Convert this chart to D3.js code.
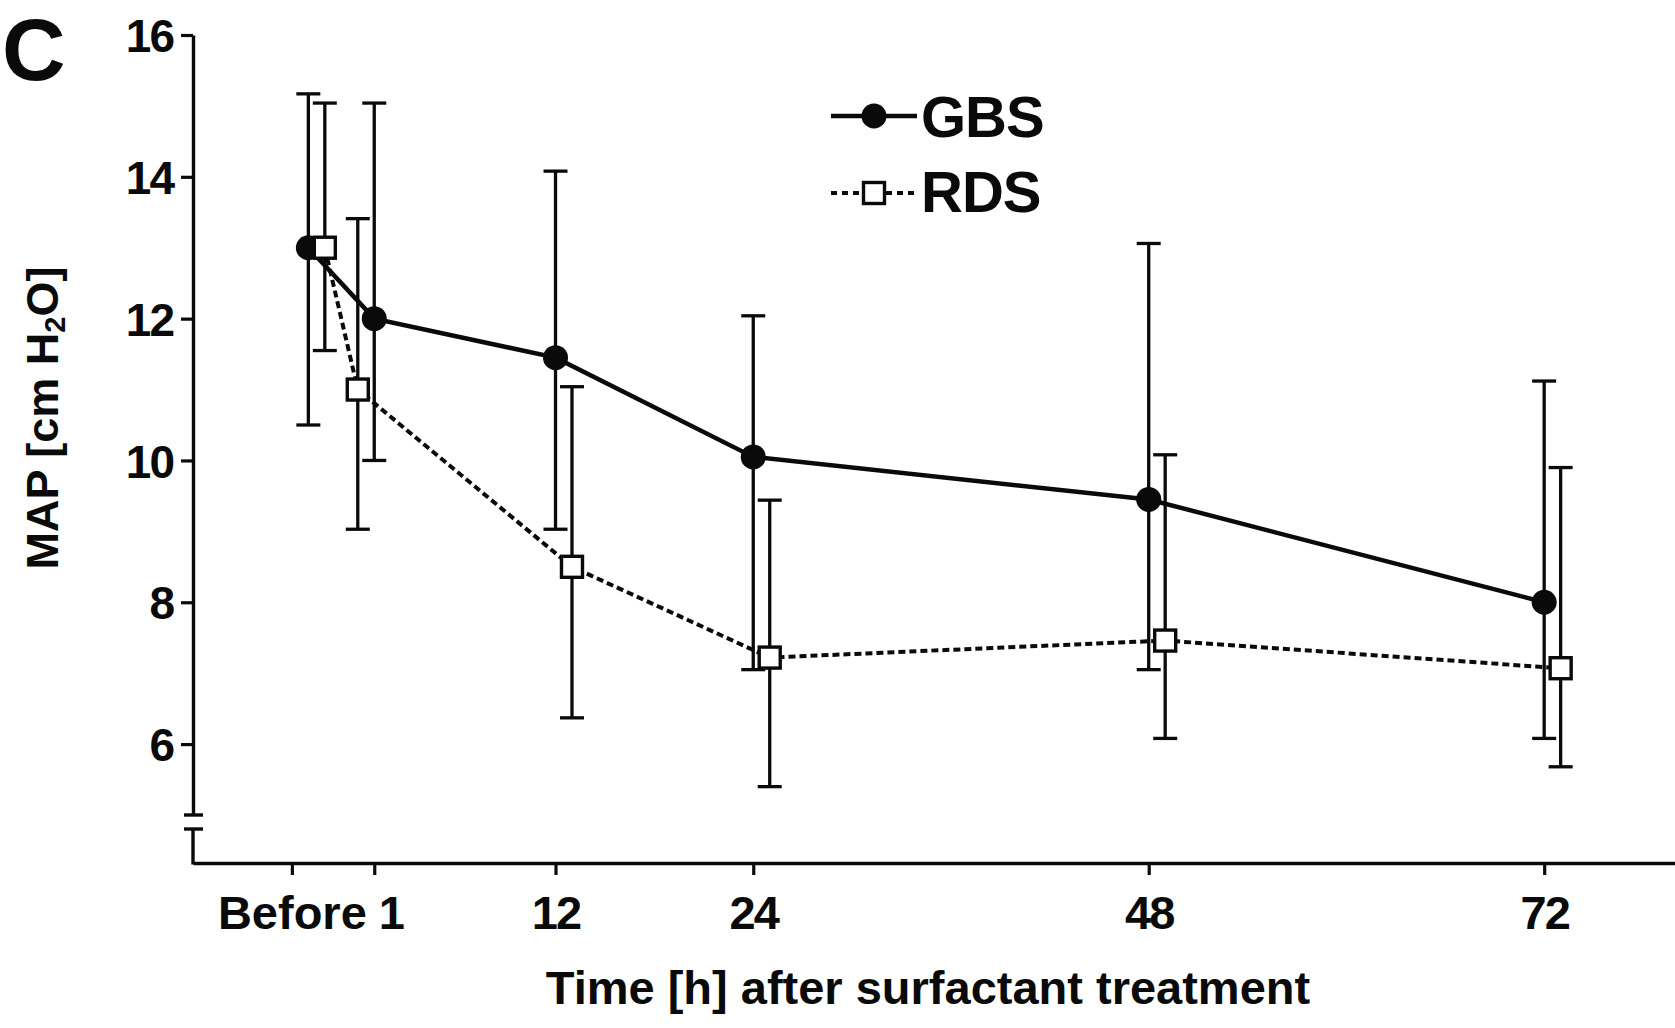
<!DOCTYPE html>
<html>
<head>
<meta charset="utf-8">
<script src="https://cdn.jsdelivr.net/npm/d3@7"></script>
<style>
  html, body { margin: 0; padding: 0; background: #fff; }
  svg { display: block; font-family: "Liberation Sans", Arial, sans-serif; }
</style>
</head>
<body>
<svg id="chart" width="1675" height="1028"></svg>
<script>
// Mean airway pressure (MAP) after surfactant treatment, mean with error range
const tickHours  = [-4, 1, 12, 24, 48, 72];
const tickLabels = ["Before", "1", "12", "24", "48", "72"];
const yTicks     = [6, 8, 10, 12, 14, 16];

// GBS group (filled circles, solid line)
const gbsHours = [-3, 1, 12, 24, 48, 72];
const gbsMean  = [13.0, 12.0, 11.45, 10.05, 9.45, 8.0];
const gbsUpper = [15.17, 15.04, 14.08, 12.04, 13.06, 11.12];
const gbsLower = [10.5, 10.0, 9.03, 7.05, 7.05, 6.08];

// RDS group (open squares, dotted line)
const rdsHours = [-2, 0, 13, 25, 49, 73];
const rdsMean  = [13.0, 11.0, 8.5, 7.22, 7.46, 7.07];
const rdsUpper = [15.04, 13.41, 11.04, 9.44, 10.08, 9.9];
const rdsLower = [11.55, 9.03, 6.37, 5.4, 6.08, 5.68];

const svg = d3.select("#chart");
const INK = "#0a0a0a";

const x = d3.scaleLinear().domain([-10, 80]).range([193, 1676]);
const y = d3.scaleLinear().domain([5, 16]).range([815, 35]);
const axisBaseY = 863;       // x axis position below the break
const breakGap = 14;         // gap between upper y segment and the lower stub

const toRows = (hours, mean, up, lo) =>
  hours.map((h, i) => ({ h, m: mean[i], up: up[i], lo: lo[i] }));
const gbs = toRows(gbsHours, gbsMean, gbsUpper, gbsLower);
const rds = toRows(rdsHours, rdsMean, rdsUpper, rdsLower);

// ---- Y axis (upper segment, values 5..16) ----
const yAxis = d3.axisLeft(y).tickValues(yTicks).tickSize(12).tickSizeOuter(0)
  .tickFormat(d3.format("d"));
const gy = svg.append("g").attr("transform", "translate(193,0)").call(yAxis);
gy.select(".domain").attr("stroke", INK).attr("stroke-width", 3.4);
gy.selectAll(".tick line").attr("stroke", INK).attr("stroke-width", 3.2);
gy.selectAll(".tick text")
  .attr("x", -20).attr("dy", "0.36em")
  .attr("fill", INK).attr("font-size", 46).attr("font-weight", "bold")
  .attr("letter-spacing", -2)
  .attr("font-family", "'Liberation Sans', Arial, sans-serif");

// axis break caps and lower stub
const yBreak = y(5);
svg.append("line").attr("x1", 184).attr("x2", 203).attr("y1", yBreak).attr("y2", yBreak)
  .attr("stroke", INK).attr("stroke-width", 3.4);
svg.append("line").attr("x1", 184).attr("x2", 203)
  .attr("y1", yBreak + breakGap).attr("y2", yBreak + breakGap)
  .attr("stroke", INK).attr("stroke-width", 3.4);
svg.append("line").attr("x1", 193).attr("x2", 193)
  .attr("y1", yBreak + breakGap).attr("y2", axisBaseY + 1.5)
  .attr("stroke", INK).attr("stroke-width", 3.4);

// ---- X axis ----
const xAxis = d3.axisBottom(x).tickValues(tickHours).tickSize(12).tickSizeOuter(0)
  .tickFormat((d, i) => tickLabels[i]);
const gx = svg.append("g").attr("transform", `translate(0,${axisBaseY})`).call(xAxis);
gx.select(".domain").attr("stroke", INK).attr("stroke-width", 3.4);
gx.selectAll(".tick line").attr("stroke", INK).attr("stroke-width", 3.2);
gx.selectAll(".tick text")
  .attr("y", 33).attr("dy", "0.71em")
  .attr("dx", (d, i) => (tickLabels[i] === "1" ? 16 : 0))
  .attr("fill", INK).attr("font-size", 47).attr("font-weight", "bold")
  .attr("letter-spacing", (d, i) => (tickLabels[i] === "Before" ? 0 : -2))
  .attr("font-family", "'Liberation Sans', Arial, sans-serif");

// ---- Axis titles ----
svg.append("text")
  .attr("x", 928).attr("y", 1004)
  .attr("text-anchor", "middle")
  .attr("font-size", 47).attr("font-weight", "bold").attr("letter-spacing", 0)
  .attr("fill", INK)
  .text("Time [h] after surfactant treatment");

const yTitle = svg.append("text")
  .attr("transform", "translate(58,418) rotate(-90)")
  .attr("text-anchor", "middle")
  .attr("font-size", 45).attr("font-weight", "bold")
  .attr("fill", INK);
yTitle.append("tspan").text("MAP [cm H");
yTitle.append("tspan").attr("font-size", 29).attr("dy", 7).text("2");
yTitle.append("tspan").attr("dy", -7).text("O]");

// panel letter
svg.append("text")
  .attr("x", 2).attr("y", 80)
  .attr("text-anchor", "start")
  .attr("font-size", 88).attr("font-weight", "bold")
  .attr("fill", INK)
  .text("C");

// ---- Error bars ----
const capHalf = 12;
function errorBars(rows, cls) {
  const g = svg.append("g").attr("class", cls)
    .attr("stroke", INK).attr("stroke-width", 3.3).attr("fill", "none");
  const bars = g.selectAll("g").data(rows).join("g");
  bars.append("line")
    .attr("x1", d => x(d.h)).attr("x2", d => x(d.h))
    .attr("y1", d => y(d.up)).attr("y2", d => y(d.lo));
  bars.append("line")
    .attr("x1", d => x(d.h) - capHalf).attr("x2", d => x(d.h) + capHalf)
    .attr("y1", d => y(d.up)).attr("y2", d => y(d.up));
  bars.append("line")
    .attr("x1", d => x(d.h) - capHalf).attr("x2", d => x(d.h) + capHalf)
    .attr("y1", d => y(d.lo)).attr("y2", d => y(d.lo));
}
errorBars(gbs, "gbs-err");
errorBars(rds, "rds-err");

// ---- Lines ----
const line = d3.line().x(d => x(d.h)).y(d => y(d.m));
svg.append("path").datum(gbs).attr("d", line)
  .attr("fill", "none").attr("stroke", INK).attr("stroke-width", 4.5);
svg.append("path").datum(rds).attr("d", line)
  .attr("fill", "none").attr("stroke", INK).attr("stroke-width", 4)
  .attr("stroke-dasharray", "7,4");

// ---- Markers ----
const rCirc = 12.5, sq = 21;
svg.append("g").selectAll("circle").data(gbs).join("circle")
  .attr("cx", d => x(d.h)).attr("cy", d => y(d.m)).attr("r", rCirc)
  .attr("fill", INK);
svg.append("g").selectAll("rect").data(rds).join("rect")
  .attr("x", d => x(d.h) - sq / 2).attr("y", d => y(d.m) - sq / 2)
  .attr("width", sq).attr("height", sq)
  .attr("fill", "#fff").attr("stroke", INK).attr("stroke-width", 3.4);

// ---- Legend ----
const legend = svg.append("g");
const lgX1 = 831, lgX2 = 917, lgMid = 874;
const lgRows = [
  { name: "GBS", yLine: 116, yText: 137 },
  { name: "RDS", yLine: 193, yText: 212 }
];
legend.append("line").attr("x1", lgX1).attr("x2", lgX2)
  .attr("y1", lgRows[0].yLine).attr("y2", lgRows[0].yLine)
  .attr("stroke", INK).attr("stroke-width", 4.5);
legend.append("circle").attr("cx", lgMid).attr("cy", lgRows[0].yLine).attr("r", rCirc)
  .attr("fill", INK);
legend.append("line").attr("x1", lgX1).attr("x2", lgX2)
  .attr("y1", lgRows[1].yLine).attr("y2", lgRows[1].yLine)
  .attr("stroke", INK).attr("stroke-width", 4).attr("stroke-dasharray", "6,5");
legend.append("rect").attr("x", lgMid - sq / 2).attr("y", lgRows[1].yLine - sq / 2)
  .attr("width", sq).attr("height", sq)
  .attr("fill", "#fff").attr("stroke", INK).attr("stroke-width", 3.4);
legend.selectAll("text.lg").data(lgRows).join("text").attr("class", "lg")
  .attr("x", 921).attr("y", d => d.yText)
  .attr("font-size", 58).attr("font-weight", "bold").attr("letter-spacing", -1)
  .attr("fill", INK)
  .text(d => d.name);
</script>
</body>
</html>
